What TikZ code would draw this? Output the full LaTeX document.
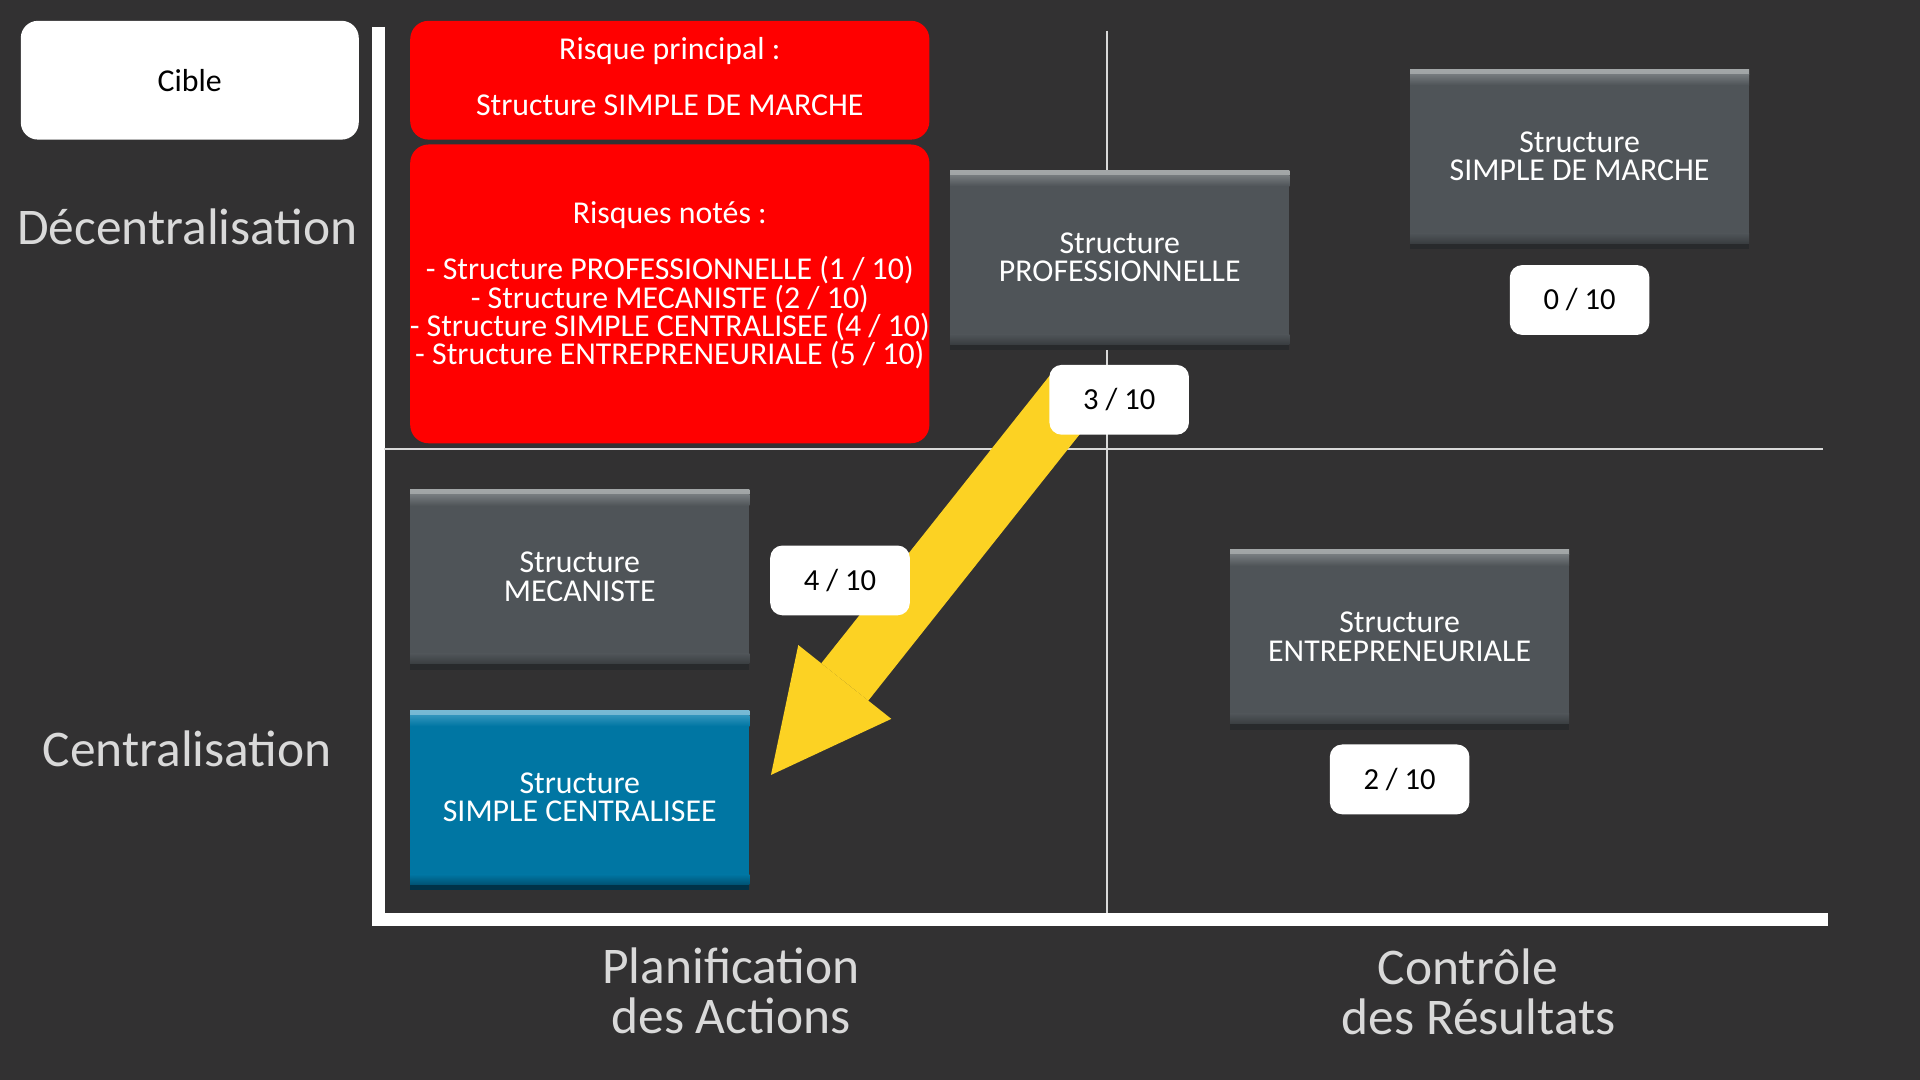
\documentclass[tikz,border=0pt]{standalone}
\usepackage{fontspec}
\setmainfont{Carlito}
\usetikzlibrary{arrows.meta,shadows}

\definecolor{fond}{RGB}{50,49,50}
\definecolor{gris}{RGB}{79,84,88}
\definecolor{grisclair}{RGB}{162,166,167}
\definecolor{grismilieu}{RGB}{118,123,126}
\definecolor{grisfonce}{RGB}{58,62,65}
\definecolor{grisombre}{RGB}{40,42,44}
\definecolor{bleu}{RGB}{0,118,163}
\definecolor{bleuclair}{RGB}{120,185,212}
\definecolor{bleumilieu}{RGB}{50,148,188}
\definecolor{bleufonce}{RGB}{0,84,118}
\definecolor{bleuombre}{RGB}{0,50,72}
\definecolor{rouge}{RGB}{255,0,0}
\definecolor{jaune}{RGB}{252,210,35}
\definecolor{clair}{RGB}{217,217,217}

\tikzset{
  boite/.style n args={5}{minimum width=277pt, minimum height=142pt, inner sep=0pt,
    fill=#1, text=white, align=center, font=\fontsize{26}{23}\selectfont,
    execute at begin node={\rule{0pt}{21pt}},
    drop shadow={shadow xshift=0pt, shadow yshift=-5pt, opacity=1, fill=#5},
    path picture={
      \shade[top color=#2, bottom color=#3] (path picture bounding box.north west) rectangle ([yshift=-4pt]path picture bounding box.north east);
      \shade[top color=#3, bottom color=#1] ([yshift=-4pt]path picture bounding box.north west) rectangle ([yshift=-13pt]path picture bounding box.north east);
      \shade[top color=#1, bottom color=#4] ([yshift=8pt]path picture bounding box.south west) rectangle (path picture bounding box.south east);
    }},
  grise/.style={boite={gris}{grisclair}{grismilieu}{grisfonce}{grisombre}},
  bleue/.style={boite={bleu}{bleuclair}{bleumilieu}{bleufonce}{bleuombre}},
  note/.style={fill=white, rounded corners=10pt, minimum width=114pt, minimum height=57pt, inner sep=0pt, font=\fontsize{25}{23}\selectfont},
  risque/.style={fill=rouge, rounded corners=15pt, minimum width=424pt, inner sep=0pt},
  texte/.style={text=white, align=center, font=\fontsize{26}{23}\selectfont},
  axe/.style={text=clair, align=center, font=\fontsize{42}{41}\selectfont}
}

\begin{document}
\begin{tikzpicture}[x=1pt,y=-1pt]

%背景
\fill[fond] (0,0) rectangle (1568,882);
\useasboundingbox (0,0) rectangle (1568,882);

%坐标轴和中间的细线
\draw[white, line width=11pt] (309,22) |- (1493,751);
\draw[clair, line width=1.8pt] (904,25) -- (904,746);
\draw[clair, line width=1.8pt] (314,367) -- (1489,367);

%左边和下面的标签
\node[fill=white, rounded corners=14pt, minimum width=276pt, minimum height=97pt, font=\fontsize{26}{23}\selectfont] (cible) at (155,65.5) {Cible};
\node[axe, anchor=base] (decentral) at (153,200) {Décentralisation};
\node[axe, anchor=base] (central) at (153,626) {Centralisation};
\node[axe] (planif) at (597,809) {Planification\\des Actions};
\node[axe] (controle) at (1207.6,810) {Contrôle\hspace*{18pt}\\des Résultats};

%红色的风险框
\node[risque, minimum height=97pt] (principal) at (547,65.5) {};
\node[texte] (principal-texte) at (547,62.6) {Risque principal :\\ \\Structure SIMPLE DE MARCHE};
\node[risque, minimum height=244pt] (notes) at (547,240) {};
\node[texte] (notes-texte) at (547,233) {Risques notés :\\ \\- Structure PROFESSIONNELLE (1 / 10)\\- Structure MECANISTE (2 / 10)\\- Structure SIMPLE CENTRALISEE (4 / 10)\\- Structure ENTREPRENEURIALE (5 / 10)};

%五种结构
\node[grise] (prof) at (914.5,210) {Structure\\PROFESSIONNELLE};
\node[grise] (marche) at (1290,127.5) {Structure\\SIMPLE DE MARCHE};
\node[grise] (meca) at (473.5,471) {Structure\\MECANISTE};
\node[grise] (entre) at (1143,520) {Structure\\ENTREPRENEURIALE};
\node[bleue] (centra) at (473.5,651) {Structure\\SIMPLE CENTRALISEE};

%黄色箭头
\coordinate (depart) at (878,320);
\coordinate (pointe) at (629.6,632.9);
\draw[jaune, line width=49pt, -{Triangle[length=97pt, width=97pt, line width=0pt]}] (depart) -- (pointe);

%分数
\node[note] (n0) at (1290,245) {0 / 10};
\node[note] (n3) at (914,326.5) {3 / 10};
\node[note] (n4) at (686,474) {4 / 10};
\node[note] (n2) at (1143,636.5) {2 / 10};

\end{tikzpicture}
\end{document}
